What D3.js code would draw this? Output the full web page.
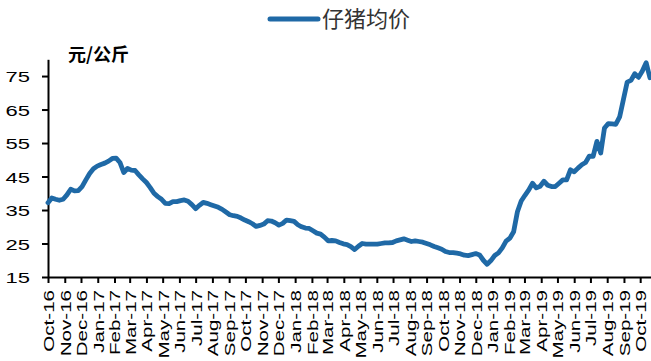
<!DOCTYPE html>
<html>
<head>
<meta charset="utf-8">
<script src="https://cdn.jsdelivr.net/npm/d3@7/dist/d3.min.js"></script>
<style>
  html, body { margin: 0; padding: 0; background: #fff; }
  svg { display: block; }
  .latin { font-family: "Liberation Sans", Arial, sans-serif; font-size: 15px; fill: #000; }
</style>
</head>
<body>
<svg id="chart" width="651" height="361"></svg>
<script>
// Weekly average piglet price (元/公斤), first week starting 2016-10-01
const seriesName = "仔猪均价";
const unitLabel = "元/公斤";
const startDate = "2016-10-01";
const axisEndDate = "2019-10-21";
const yTicks = [15, 25, 35, 45, 55, 65, 75];
const yDomain = [15, 80];
const priceValues = [
  37.2, 38.6, 38.2, 37.9, 38.2, 39.5, 41.2, 40.7, 40.8, 42.0,
  44.0, 45.9, 47.3, 48.1, 48.6, 49.0, 49.6, 50.4, 50.5, 49.2,
  46.2, 47.4, 46.9, 46.8, 45.5, 44.3, 43.2, 41.7, 40.0, 39.0,
  38.2, 37.0, 36.9, 37.5, 37.5, 37.8, 38.0, 37.6, 36.6, 35.4,
  36.4, 37.3, 37.0, 36.6, 36.2, 35.8, 35.2, 34.4, 33.6, 33.3,
  33.1, 32.6, 32.0, 31.5, 30.9, 30.1, 30.4, 30.8, 31.8, 31.7,
  31.2, 30.5, 31.0, 32.0, 31.8, 31.6, 30.6, 30.0, 29.6, 29.5,
  28.8, 28.1, 27.8, 26.9, 25.8, 25.9, 25.8, 25.3, 24.9, 24.7,
  24.1, 23.2, 24.2, 25.0, 24.8, 24.8, 24.8, 24.8, 25.0, 25.2,
  25.2, 25.3, 25.8, 26.1, 26.4, 26.0, 25.6, 25.8, 25.6, 25.4,
  25.0, 24.6, 24.1, 23.7, 23.3, 22.6, 22.3, 22.3, 22.1, 21.9,
  21.5, 21.4, 21.7, 22.0, 21.6, 20.0, 18.8, 19.9, 21.4, 22.2,
  23.7, 25.7, 26.6, 28.5, 34.5, 37.7, 39.4, 41.0, 43.0, 41.6,
  42.1, 43.6, 42.4, 42.0, 42.0, 43.0, 44.0, 44.0, 47.0, 46.4,
  47.5, 48.5, 49.2, 51.1, 51.0, 55.5, 52.0, 59.5, 60.8, 60.7,
  60.6, 62.8, 68.0, 73.2, 73.7, 75.7, 74.6, 76.5, 79.0, 74.5
];

const parse = d3.timeParse("%Y-%m-%d");
const t0 = parse(startDate);
const t1 = parse(axisEndDate);
const data = priceValues.map((v, i) => ({ date: d3.timeDay.offset(t0, i * 7), value: v }));
const monthTicks = d3.timeMonth.range(t0, t1);

const lineColor = "#1f69a6";
const svg = d3.select("#chart");

const x = d3.scaleTime().domain([t0, t1]).range([48, 651]);
const y = d3.scaleLinear().domain(yDomain).range([277, 59.3]);

// Y axis
const yAxis = svg.append("g")
  .attr("transform", "translate(48,0)")
  .call(d3.axisLeft(y).tickValues(yTicks).tickSize(6).tickSizeOuter(0));
yAxis.select(".domain").attr("stroke", "#000").attr("stroke-width", 2);
yAxis.selectAll(".tick line").attr("stroke", "#000").attr("stroke-width", 2);
yAxis.selectAll(".tick text")
  .attr("class", "latin")
  .attr("x", null)
  .attr("dy", "0.36em")
  .attr("text-anchor", "end")
  .style("font-size", "15.5px")
  .attr("transform", "translate(-18,0) scale(1.42,1)");

// X axis
const xAxis = svg.append("g")
  .attr("transform", "translate(0,277)")
  .call(d3.axisBottom(x).tickValues(monthTicks).tickSize(6).tickSizeOuter(0)
    .tickFormat(d3.timeFormat("%b-%y")));
xAxis.select(".domain").attr("stroke", "#000").attr("stroke-width", 2);
xAxis.selectAll(".tick line").attr("stroke", "#000").attr("stroke-width", 2);
xAxis.selectAll(".tick text")
  .attr("class", "latin")
  .attr("x", null)
  .attr("y", null)
  .attr("dy", "0.36em")
  .attr("text-anchor", "end")
  .attr("transform", "translate(0,13) rotate(-90) scale(1.37,1)");

// Price line
const line = d3.line().x(d => x(d.date)).y(d => y(d.value)).curve(d3.curveLinear);
svg.append("path")
  .datum(data)
  .attr("d", line)
  .attr("fill", "none")
  .attr("stroke", lineColor)
  .attr("stroke-width", 4.8)
  .attr("stroke-linejoin", "round")
  .attr("stroke-linecap", "round");

// Unit label
svg.append("text")
  .attr("x", 68)
  .attr("y", 61)
  .attr("font-family", "Noto Sans CJK SC, sans-serif")
  .attr("font-weight", "bold")
  .attr("font-size", 18)
  .attr("fill", "#000")
  .text(unitLabel);

// Legend
const legend = svg.append("g");
legend.append("line")
  .attr("x1", 270).attr("x2", 318)
  .attr("y1", 19).attr("y2", 19)
  .attr("stroke", lineColor)
  .attr("stroke-width", 5)
  .attr("stroke-linecap", "round");
legend.append("text")
  .attr("x", 322)
  .attr("y", 27)
  .attr("font-family", "Noto Sans CJK SC, sans-serif")
  .attr("font-size", 22)
  .attr("fill", "#333")
  .text(seriesName);
</script>
</body>
</html>
